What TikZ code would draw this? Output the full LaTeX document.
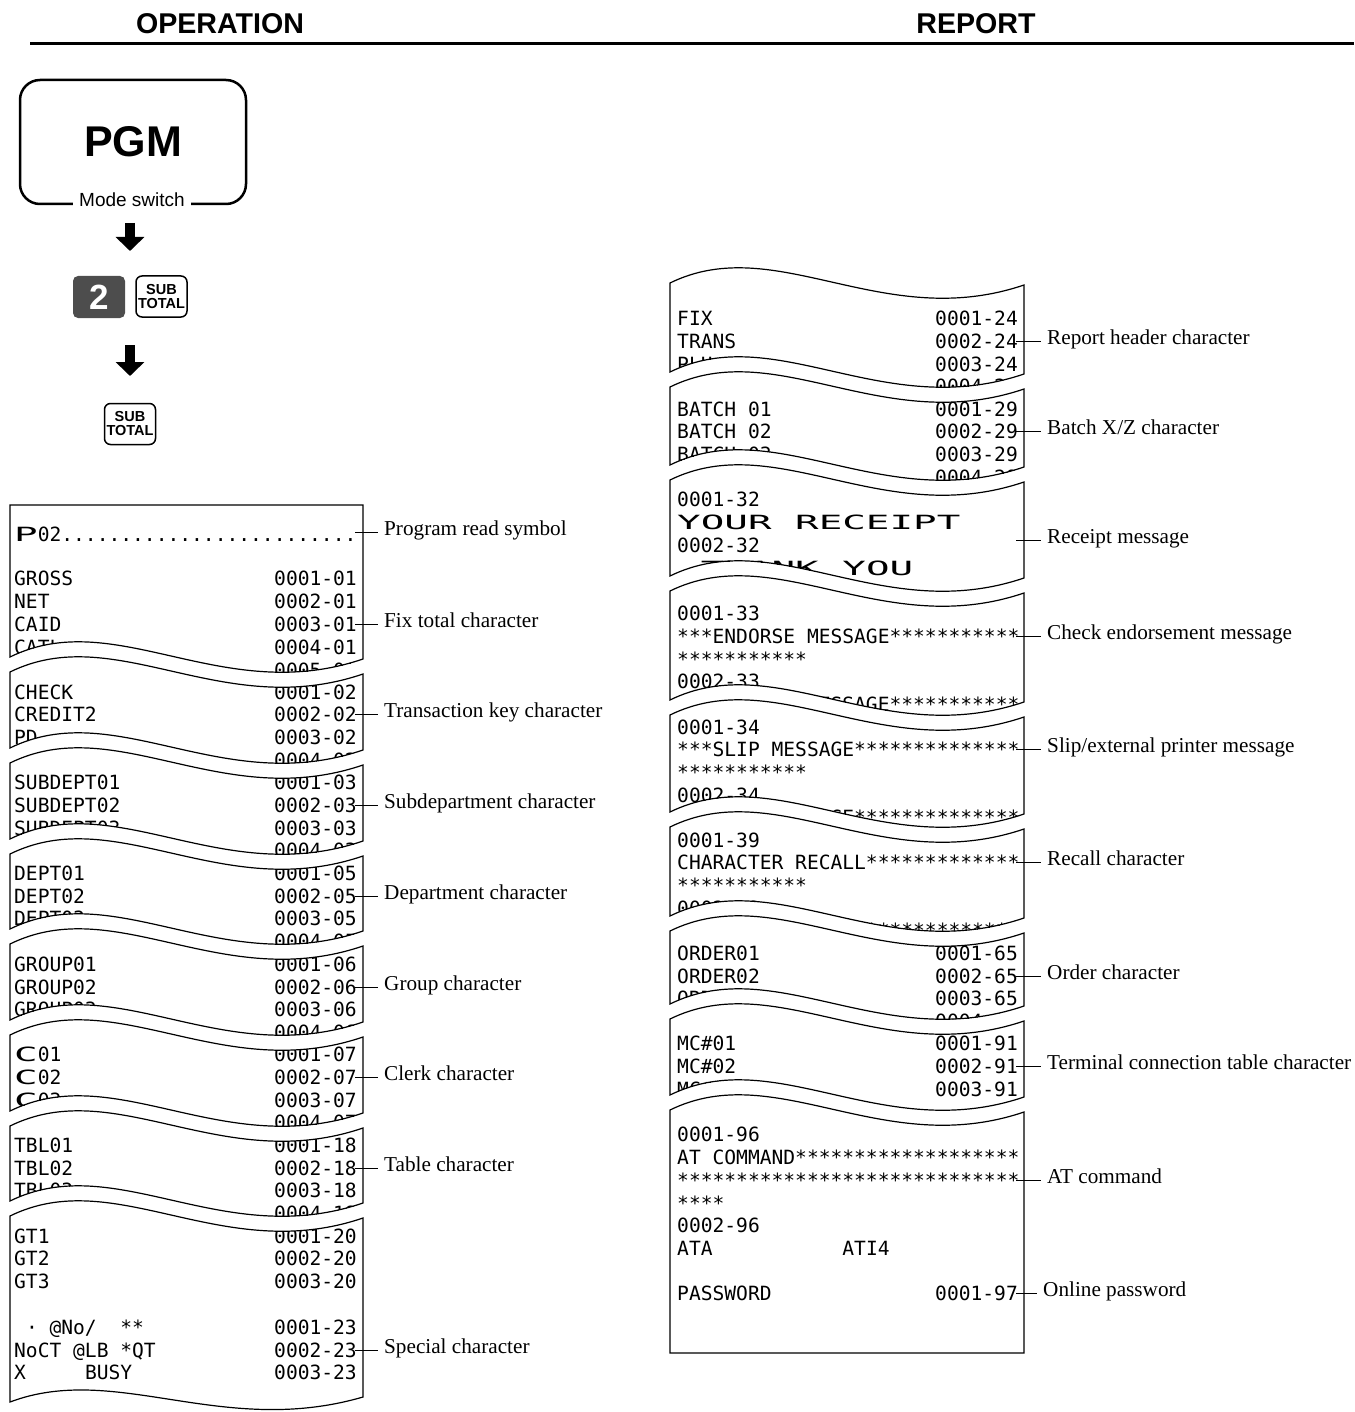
\documentclass[tikz,border=0pt]{standalone}
\usepackage{fontspec}
\usepackage{graphicx}
\setmainfont{Liberation Serif}
\setsansfont{Liberation Sans}
\newfontfamily\rcpt{DejaVu Sans Mono}
\usetikzlibrary{arrows.meta}
\definecolor{keygrey}{HTML}{4D4D4D}
% wave pieces: #1 = left x, #2 = left-end y, #3 = right x
\newcommand{\wfwd}[3]{(#1,#2) .. controls ({#1+0.3*(#3-#1)},{#2-52}) and ({#1+0.6*(#3-#1)},{#2+50}) .. (#3,{#2+2})}
\newcommand{\wbwd}[3]{(#3,{#2+2}) .. controls ({#1+0.6*(#3-#1)},{#2+50}) and ({#1+0.3*(#3-#1)},{#2-52}) .. (#1,#2)}
\newcommand{\wbwdS}[3]{(#3,{#2-5}) .. controls ({#1+0.6*(#3-#1)},{#2+36}) and ({#1+0.3*(#3-#1)},{#2-40}) .. (#1,#2)}
% segment outlines
\newcommand{\segL}[2]{\wfwd{10}{#1}{363} -- \wbwd{10}{#2}{363} -- cycle}
\newcommand{\segR}[2]{\wfwd{670}{#1}{1024} -- \wbwd{670}{#2}{1024} -- cycle}
\newcommand{\RcL}[3]{\node[rl] (ln#1) at (14,{#1+7}) {#2}; \node[rr] (lv#1) at (357,{#1+7}) {#3};}
\newcommand{\RcR}[3]{\node[rl] (rn#1) at (677,{#1+7}) {#2}; \node[rr] (rv#1) at (1018,{#1+7}) {#3};}
\newcommand{\Lab}[5]{\coordinate (c#1) at (#2,#3); \node[lbl] (l#1) at (#4,{#3+3}) {#5}; \draw[conn] (c#1) -- (c#1 -| l#1.west);}
\newcommand{\DW}[1]{\scalebox{2}[1]{#1}}
\tikzset{
  rc/.style={line width=1.2pt},
  rtxt/.style={inner sep=0pt, font=\rcpt\fontsize{19.6pt}{22pt}\selectfont},
  rl/.style={rtxt, anchor=base west},
  rr/.style={rtxt, anchor=base east},
  lbl/.style={inner sep=0pt, anchor=base west, font=\fontsize{21.2pt}{24pt}\selectfont},
  conn/.style={line width=1pt, shorten >=6pt},
  hdr/.style={font=\sffamily\bfseries\fontsize{28.6pt}{32pt}\selectfont, inner sep=0pt},
  keyw/.style={draw, line width=1.5pt, rounded corners=6pt, minimum width=51pt, minimum height=41pt, inner sep=0pt, align=center, font=\sffamily\bfseries\fontsize{14.5pt}{15pt}\selectfont},
  keyd/.style={fill=keygrey, rounded corners=5pt, minimum width=52pt, minimum height=42pt, inner sep=0pt, text=white, font=\sffamily\bfseries\fontsize{35pt}{36pt}\selectfont},
  barrow/.style={line width=10pt, -{Triangle[length=14pt,width=28pt]}},
}
\begin{document}
\begin{tikzpicture}[x=1pt,y=-1pt]
\useasboundingbox (0,0) rectangle (1354,1412);

% ---------- header ----------
\node[hdr] (op) at (220,24) {OPERATION};
\node[hdr] (rp) at (976,24) {REPORT};
\coordinate (hl) at (30,44);
\coordinate (hr) at (1354,44);
\draw[line width=3pt] (hl) -- (hr);

% ---------- operation ----------
\node[draw, rounded corners=20pt, line width=2.5pt, minimum width=226pt, minimum height=124pt, inner sep=0pt,
      font=\sffamily\bfseries\fontsize{43pt}{45pt}\selectfont] (pgm) at (133,142) {PGM};
\node[fill=white, inner xsep=6pt, inner ysep=3pt, font=\sffamily\fontsize{19pt}{21pt}\selectfont] (ms) at (132,200) {Mode switch};
\coordinate (a1s) at (130,223);
\coordinate (a1e) at (130,251);
\draw[barrow] (a1s) -- (a1e);
\node[keyd] (k2) at (99,297) {2};
\node[keyw] (k1) at (161.5,296.5) {SUB\\[-1pt]TOTAL};
\coordinate (a2s) at (130,345);
\coordinate (a2e) at (130,376);
\draw[barrow] (a2s) -- (a2e);
\node[keyw] (k3) at (130,424) {SUB\\[-1pt]TOTAL};

% ---------- left receipt ----------
\begin{scope}
\clip (10,505) -- (363,505) -- \wbwd{10}{657}{363} -- cycle;
\RcL{534}{\DW{P}02.........................}{}
\RcL{578}{GROSS}{0001-01}
\RcL{601}{NET}{0002-01}
\RcL{624}{CAID}{0003-01}
\RcL{647}{CATL}{0004-01}
\RcL{670}{}{0005-01}
\end{scope}
\begin{scope}
\clip \segL{672}{748};
\RcL{692}{CHECK}{0001-02}
\RcL{714}{CREDIT2}{0002-02}
\RcL{737}{PD}{0003-02}
\RcL{760}{}{0004-02}
\end{scope}
\begin{scope}
\clip \segL{763}{839};
\RcL{782}{SUBDEPT01}{0001-03}
\RcL{805}{SUBDEPT02}{0002-03}
\RcL{828}{SUBDEPT03}{0003-03}
\RcL{850}{}{0004-03}
\end{scope}
\begin{scope}
\clip \segL{854}{929};
\RcL{873}{DEPT01}{0001-05}
\RcL{896}{DEPT02}{0002-05}
\RcL{918}{DEPT03}{0003-05}
\RcL{941}{}{0004-05}
\end{scope}
\begin{scope}
\clip \segL{944}{1020};
\RcL{964}{GROUP01}{0001-06}
\RcL{987}{GROUP02}{0002-06}
\RcL{1009}{GROUP03}{0003-06}
\RcL{1032}{}{0004-06}
\end{scope}
\begin{scope}
\clip \segL{1035}{1111};
\RcL{1054}{\DW{C}01}{0001-07}
\RcL{1077}{\DW{C}02}{0002-07}
\RcL{1100}{\DW{C}03}{0003-07}
\RcL{1122}{}{0004-07}
\end{scope}
\begin{scope}
\clip \segL{1126}{1201};
\RcL{1145}{TBL01}{0001-18}
\RcL{1168}{TBL02}{0002-18}
\RcL{1190}{TBL03}{0003-18}
\RcL{1213}{}{0004-18}
\end{scope}
\begin{scope}
\clip \wfwd{10}{1216}{363} -- \wbwdS{10}{1402}{363} -- cycle;
\RcL{1236}{GT1}{0001-20}
\RcL{1258}{GT2}{0002-20}
\RcL{1281}{GT3}{0003-20}
\RcL{1327}{\ ·\ @No/\ \ **}{0001-23}
\RcL{1350}{NoCT @LB *QT}{0002-23}
\RcL{1372}{X\ \ \ \ \ BUSY}{0003-23}
\end{scope}
% outlines
\draw[rc] (10,505) -- (363,505) -- \wbwd{10}{657}{363} -- cycle;
\draw[rc] \segL{672}{748};
\draw[rc] \segL{763}{839};
\draw[rc] \segL{854}{929};
\draw[rc] \segL{944}{1020};
\draw[rc] \segL{1035}{1111};
\draw[rc] \segL{1126}{1201};
\draw[rc] \wfwd{10}{1216}{363} -- \wbwdS{10}{1402}{363} -- cycle;
% labels
\Lab{la1}{355}{532}{384}{Program read symbol}
\Lab{la2}{355}{624}{384}{Fix total character}
\Lab{la3}{355}{714}{384}{Transaction key character}
\Lab{la4}{355}{805}{384}{Subdepartment character}
\Lab{la5}{355}{896}{384}{Department character}
\Lab{la6}{355}{987}{384}{Group character}
\Lab{la7}{355}{1077}{384}{Clerk character}
\Lab{la8}{355}{1168}{384}{Table character}
\Lab{la9}{355}{1350}{384}{Special character}

% ---------- right receipt ----------
\begin{scope}
\clip \segR{283}{372};
\RcR{318}{FIX}{0001-24}
\RcR{341}{TRANS}{0002-24}
\RcR{364}{PLU}{0003-24}
\RcR{386}{}{0004-24}
\end{scope}
\begin{scope}
\clip \segR{387}{465};
\RcR{409}{BATCH 01}{0001-29}
\RcR{431}{BATCH 02}{0002-29}
\RcR{454}{BATCH 03}{0003-29}
\RcR{477}{}{0004-29}
\end{scope}
\begin{scope}
\clip \segR{480}{576};
\RcR{499}{0001-32}{}
\RcR{522}{\DW{YOUR RECEIPT}}{}
\RcR{545}{0002-32}{}
\RcR{568}{\DW{\ THANK YOU}}{}
\end{scope}
\begin{scope}
\clip \segR{591}{700};
\RcR{613}{0001-33}{}
\RcR{636}{***ENDORSE MESSAGE***********}{}
\RcR{659}{***********}{}
\RcR{681}{0002-33}{}
\RcR{704}{***ENDORSE MESSAGE***********}{}
\end{scope}
\begin{scope}
\clip \segR{715}{812};
\RcR{727}{0001-34}{}
\RcR{749}{***SLIP MESSAGE**************}{}
\RcR{772}{***********}{}
\RcR{795}{0002-34}{}
\RcR{817}{***SLIP MESSAGE**************}{}
\end{scope}
\begin{scope}
\clip \segR{827}{916};
\RcR{840}{0001-39}{}
\RcR{862}{CHARACTER RECALL*************}{}
\RcR{885}{***********}{}
\RcR{908}{0002-39}{}
\RcR{930}{CHARACTER RECALL*************}{}
\end{scope}
\begin{scope}
\clip \segR{931}{1004};
\RcR{953}{ORDER01}{0001-65}
\RcR{976}{ORDER02}{0002-65}
\RcR{998}{ORDER03}{0003-65}
\RcR{1021}{}{0004-65}
\end{scope}
\begin{scope}
\clip \segR{1019}{1095};
\RcR{1043}{MC\#01}{0001-91}
\RcR{1066}{MC\#02}{0002-91}
\RcR{1089}{MC\#03}{0003-91}
\end{scope}
\begin{scope}
\clip \wfwd{670}{1110}{1024} -- (1024,1353) -- (670,1353) -- cycle;
\RcR{1134}{0001-96}{}
\RcR{1157}{AT COMMAND*******************}{}
\RcR{1180}{*****************************}{}
\RcR{1203}{****}{}
\RcR{1225}{0002-96}{}
\RcR{1248}{ATA\ \ \ \ \ \ \ \ \ \ \ ATI4}{}
\RcR{1293}{PASSWORD}{0001-97}
\end{scope}
% outlines
\draw[rc] \segR{283}{372};
\draw[rc] \segR{387}{465};
\draw[rc] \segR{480}{576};
\draw[rc] \segR{591}{700};
\draw[rc] \segR{715}{812};
\draw[rc] \segR{827}{916};
\draw[rc] \segR{931}{1004};
\draw[rc] \segR{1019}{1095};
\draw[rc] \wfwd{670}{1110}{1024} -- (1024,1353) -- (670,1353) -- cycle;
% labels
\Lab{lb1}{1016}{341}{1047}{Report header character}
\Lab{lb2}{1016}{431}{1047}{Batch X/Z character}
\Lab{lb3}{1016}{540}{1047}{Receipt message}
\Lab{lb4}{1016}{636}{1047}{Check endorsement message}
\Lab{lb5}{1016}{749}{1047}{Slip/external printer message}
\Lab{lb6}{1016}{862}{1047}{Recall character}
\Lab{lb7}{1016}{976}{1047}{Order character}
\Lab{lb8}{1016}{1066}{1047}{Terminal connection table character}
\Lab{lb9}{1016}{1180}{1047}{AT command}
\Lab{lb10}{1016}{1293}{1043}{Online password}
\end{tikzpicture}
\end{document}
